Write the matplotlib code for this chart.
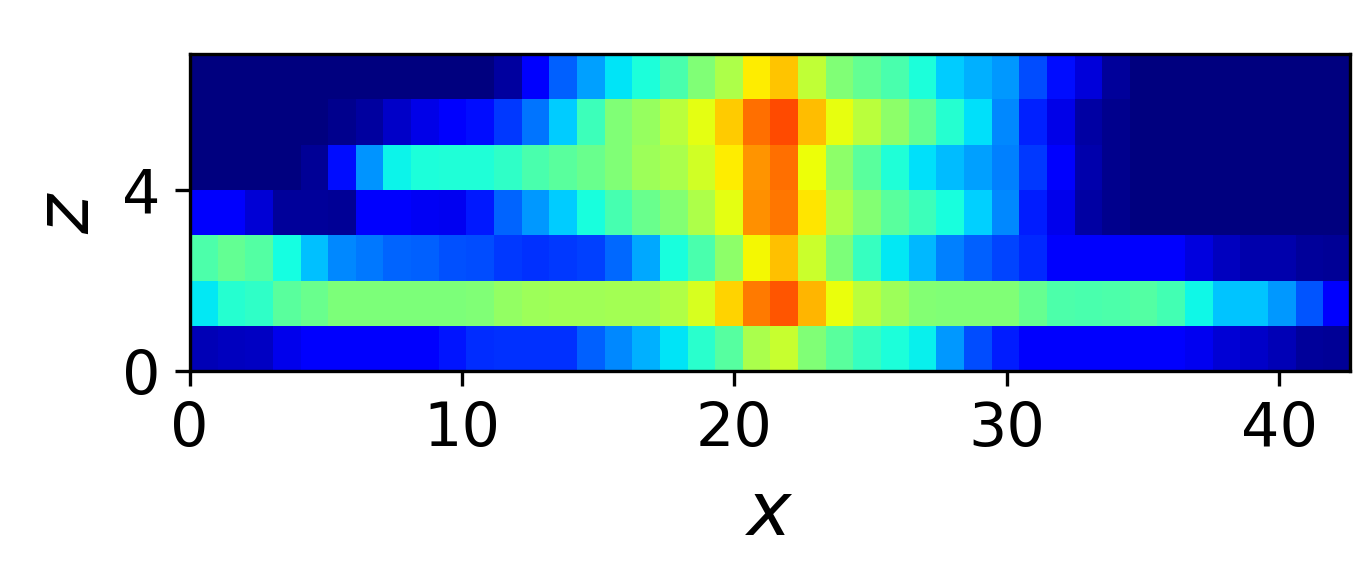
import numpy as np
import matplotlib
matplotlib.use("Agg")
import matplotlib.pyplot as plt

# one list per z level, bottom row first, 42 cells along x
row0 = [.05, .055, .06, .095, .11, .11, .11, .11, .11, .145, .17, .175, .175, .175,
        .22, .26, .30, .35, .40, .455, .555, .59, .505, .46, .415, .385, .36, .275,
        .20, .155, .11, .11, .11, .11, .11, .11, .10, .075, .065, .05, .025, .02]
row1 = [.355, .395, .41, .46, .48, .50, .50, .50, .50, .50, .505, .53, .54, .545,
        .545, .55, .55, .565, .61, .685, .78, .82, .715, .635, .575, .54, .51, .505,
        .505, .505, .475, .445, .44, .445, .45, .43, .37, .32, .32, .275, .21, .11]
row2 = [.445, .47, .45, .375, .315, .26, .245, .225, .22, .205, .20, .18, .175, .18,
        .19, .23, .29, .38, .44, .52, .645, .705, .595, .50, .415, .355, .305, .25,
        .22, .195, .165, .11, .11, .11, .11, .11, .085, .055, .04, .04, .025, .02]
row3 = [.11, .11, .075, .025, .025, .02, .11, .11, .105, .10, .15, .225, .275, .325,
        .38, .435, .48, .51, .56, .625, .755, .785, .665, .565, .51, .46, .425, .38,
        .33, .26, .155, .095, .035, .012, 0, 0, 0, 0, 0, 0, 0, 0]
row4 = [0, 0, 0, 0, .02, .14, .27, .365, .385, .39, .39, .41, .44, .46,
        .48, .505, .54, .555, .605, .66, .75, .79, .64, .52, .46, .39, .345, .31,
        .285, .25, .18, .11, .04, .012, 0, 0, 0, 0, 0, 0, 0, 0]
row5 = [0, 0, 0, 0, 0, .015, .03, .065, .09, .11, .14, .18, .24, .325,
        .425, .505, .535, .575, .625, .695, .79, .83, .71, .63, .575, .52, .47, .395,
        .345, .26, .16, .09, .035, .012, 0, 0, 0, 0, 0, 0, 0, 0]
row6 = [0, 0, 0, 0, 0, 0, 0, 0, 0, 0, 0, .03, .11, .22,
        .285, .35, .385, .44, .505, .56, .66, .70, .585, .505, .47, .44, .385, .325,
        .30, .275, .20, .14, .08, .025, 0, 0, 0, 0, 0, 0, 0, 0]

x_ticks = [0, 10, 20, 30, 40]
z_ticks = [0, 4]

data = np.array([row0, row1, row2, row3, row4, row5, row6])

plt.rcParams['font.size'] = 14.5

fig = plt.figure(figsize=(1360 / 300, 580 / 300), dpi=300)
ax = fig.add_axes([189.5 / 1360, 209 / 580, 1160.5 / 1360, 317 / 580])
ax.imshow(data, cmap='jet', vmin=0, vmax=1, origin='lower', aspect='auto',
          extent=[0, 42.6, 0, 7], interpolation='nearest')
ax.set_xticks(x_ticks)
ax.set_yticks(z_ticks)
ax.set_xlabel('$x$', fontsize=18, labelpad=4.5)
ax.set_ylabel('$z$', fontsize=18)

fig.savefig('out.png', dpi=300)
